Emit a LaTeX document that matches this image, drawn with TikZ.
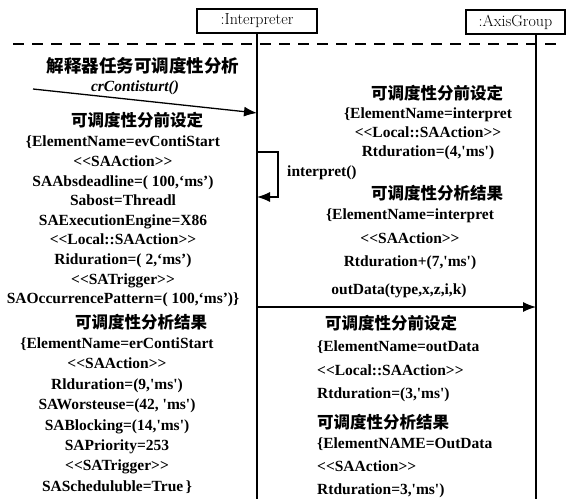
\documentclass[tikz,border=0pt]{standalone}
\usepackage{fontspec}
\newfontfamily\tnr{Liberation Serif}
\newfontfamily\cjk{Noto Sans CJK SC}
\usetikzlibrary{arrows.meta,positioning}
\newcommand{\stereo}[1]{<{}<#1>{}>}
\newcommand{\sq}{\textquotesingle}

\begin{document}
\begin{tikzpicture}[
    x=1pt, y=-1pt,
    obj/.style={rectangle, draw=black, line width=1.5pt,
                minimum height=24pt, inner sep=0pt,
                font=\fontsize{16}{18}\selectfont},
    life/.style={draw=black, line width=1.3pt},
    msg/.style={-{Latex[length=13pt,width=10pt]}, line width=1.3pt, draw=black},
    head/.style={inner sep=0pt, font=\cjk\bfseries\fontsize{16.5}{18}\selectfont},
    attr/.style={inner sep=0pt, align=center,
                 font=\tnr\bfseries\fontsize{15.5}{19.6}\selectfont},
    note/.style={attr, anchor=west, align=left}
]
    \useasboundingbox (0,0) rectangle (575,499);

    % objects and lifelines
    \node[obj, minimum width=120pt] (int) at (257,21) {:Interpreter};
    \node[obj, minimum width=99pt] (axis) at (515.5,22) {:AxisGroup};
    \coordinate (intend) at (257,499);
    \coordinate (axtop) at (536,34);
    \coordinate (axend) at (536,499);
    \draw[life] (int) -- (intend);
    \draw[life] (axtop) -- (axend);

    \coordinate (dashl) at (13,44);
    \coordinate (dashr) at (556,44);
    \draw[line width=1.3pt, dash pattern=on 11pt off 8pt] (dashl) -- (dashr);

    % messages
    \coordinate (src) at (33,89);
    \coordinate (callin) at (257,113);
    \draw[msg] (src) -- (callin);

    \coordinate (selfout) at (257,152);
    \coordinate (selfin) at (257,197);
    \draw[msg] (selfout) -- ++(21,0) |- (selfin);

    \coordinate (dataout) at (257,307);
    \coordinate (datain) at (536,307);
    \draw[msg] (dataout) -- (datain);

    % left column
    \node[head, font=\cjk\bfseries\fontsize{17.5}{19}\selectfont] (task) at (143,66) {解释器任务可调度性分析};
    \node[attr, font=\tnr\bfseries\itshape\fontsize{15.5}{18}\selectfont] (start) at (135,88) {crContisturt()};
    \node[head] (leftpre) at (137,120) {可调度性分前设定};
    \node[attr] (leftpreattr) at (123,221.5) {\{ElementName=evContiStart\\
        \stereo{SAAction}\\
        SAAbsdeadline=( 100,‘ms’)\\
        Sabost=Threadl\\
        SAExecutionEngine=X86\\
        \stereo{Local::SAAction}\\
        Riduration=( 2,‘ms’)\\
        \stereo{SATrigger}\\
        SAOccurrencePattern=( 100,‘ms’)\}};
    \node[head] (leftres) at (141,322) {可调度性分析结果};
    \node[attr, font=\tnr\bfseries\fontsize{15.5}{20.4}\selectfont] (leftresattr) at (117,415.5) {\{ElementName=erContiStart\\
        \stereo{SAAction}\\
        Rlduration=(9,\sq ms\sq)\\
        SAWorsteuse=(42, \sq ms\sq)\\
        SABlocking=(14,\sq ms\sq)\\
        SAPriority=253\\
        \stereo{SATrigger}\\
        SAScheduluble=True\,\}};

    % right column
    \node[head] (rightpre) at (437,93) {可调度性分前设定};
    \node[attr, font=\tnr\bfseries\fontsize{15.5}{19}\selectfont] (rightpreattr) at (428,134) {\{ElementName=interpret\\
        \stereo{Local::SAAction}\\
        Rtduration=(4,\sq ms\sq)};
    \node[note] (selfname) at (287,173) {interpret()};
    \node[head] (rightres) at (437,193) {可调度性分析结果};
    \node[attr, font=\tnr\bfseries\fontsize{15.5}{23.5}\selectfont] (rightresattr) at (410,239.5) {\{ElementName=interpret\\
        \stereo{SAAction}\\
        Rtduration+(7,\sq ms\sq)};
    \node[attr] (dataname) at (399,291) {outData(type,x,z,i,k)};

    \node[head, anchor=west] (datapre) at (325,323) {可调度性分前设定};
    \node[note, font=\tnr\bfseries\fontsize{15.5}{23.5}\selectfont] (datapreattr) at (317,371.5) {\{ElementName=outData\\
        \stereo{Local::SAAction}\\
        Rtduration=(3,\sq ms\sq)};
    \node[head, anchor=west] (datares) at (317,422) {可调度性分析结果};
    \node[note, font=\tnr\bfseries\fontsize{15.5}{23}\selectfont] (dataresattr) at (317,467.5) {\{ElementNAME=OutData\\
        \stereo{SAAction}\\
        Rtduration=3,\sq ms\sq)};
\end{tikzpicture}
\end{document}
